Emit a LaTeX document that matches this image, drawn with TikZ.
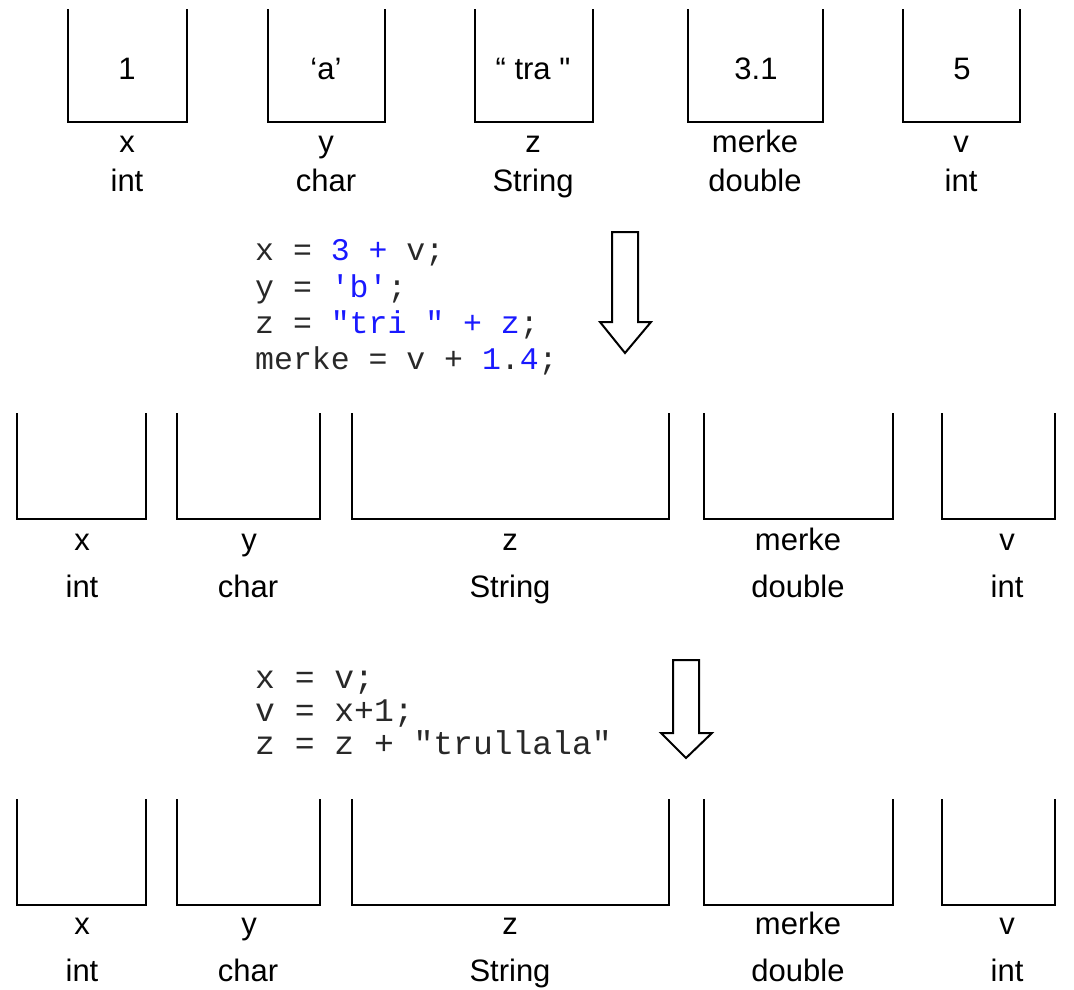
\documentclass[tikz,border=0pt]{standalone}
\usepackage{fontspec}
\setmainfont{Liberation Sans}[Ligatures=TeXOff]
\newfontfamily\codefont{Liberation Mono}[Ligatures=TeXOff]
\definecolor{cblue}{RGB}{25,25,255}
\definecolor{cdark}{RGB}{40,40,40}
\tikzset{
  cellbox/.style={inner sep=0pt, outer sep=0pt, font=\fontsize{31}{37}\selectfont},
  uline/.style={line width=2pt, line cap=rect},
  lbl/.style={inner sep=0pt, anchor=base, font=\fontsize{31}{37}\selectfont},
  codeA/.style={inner sep=0pt, anchor=base west, text=cdark, font=\codefont\fontsize{31.5}{37}\selectfont},
  codeB/.style={inner sep=0pt, anchor=base west, text=cdark, font=\codefont\fontsize{33}{38}\selectfont},
  blockarrow/.style={line width=2pt, line join=miter, fill=white},
}
\newcommand{\ubox}[6]{%
  \node[cellbox, minimum width=#4pt, minimum height=#5pt] (#1) at (#2,#3) {#6};
  \draw[uline] (#1.north west) -- (#1.south west) -- (#1.south east) -- (#1.north east);
}
\begin{document}
\begin{tikzpicture}[x=1pt, y=-1pt]
\useasboundingbox (0,0) rectangle (1074,989);

% ---------- top row ----------
\ubox{tx}{127.5}{66}{119}{112}{}
\ubox{ty}{326.5}{66}{117}{112}{}
\ubox{tz}{534}{66}{118}{112}{}
\ubox{tm}{755.5}{66}{135}{112}{}
\ubox{tv}{961.5}{66}{117}{112}{}
\node[lbl] (vx) at (127,79) {1};
\node[lbl] (vy) at (326,79) {‘a’};
\node[lbl] (vz) at (533,79) {“ tra "};
\node[lbl] (vm) at (756,79) {3.1};
\node[lbl] (vv) at (962,79) {5};
\node[lbl] (tnx) at (127,152) {x};
\node[lbl] (tny) at (326,152) {y};
\node[lbl] (tnz) at (533,152) {z};
\node[lbl] (tnm) at (755,152) {merke};
\node[lbl] (tnv) at (961,152) {v};
\node[lbl] (ttx) at (127,191) {int};
\node[lbl] (tty) at (326,191) {char};
\node[lbl] (ttz) at (533,191) {String};
\node[lbl] (ttm) at (755,191) {double};
\node[lbl] (ttv) at (961,191) {int};

% ---------- code block 1 ----------
\node[codeA] (c1a) at (255,260) {x = {\color{cblue}3 +} v;};
\node[codeA] (c1b) at (255,297) {y = {\color{cblue}'b'};};
\node[codeA] (c1c) at (255,333) {z = {\color{cblue}"tri " + z};};
\node[codeA] (c1d) at (255,369) {merke = v + {\color{cblue}1}.{\color{cblue}4};};
\draw[blockarrow] (612,232) -- (638,232) -- (638,322) -- (651,322) -- (625,353) -- (600,322) -- (612,322) -- cycle;

% ---------- middle row ----------
\ubox{mx}{81.5}{466.5}{129}{105}{}
\ubox{my}{248.5}{466.5}{143}{105}{}
\ubox{mz}{510.5}{466.5}{317}{105}{}
\ubox{mm}{798.5}{466.5}{189}{105}{}
\ubox{mv}{998.5}{466.5}{113}{105}{}
\node[lbl] (mnx) at (82,550) {x};
\node[lbl] (mny) at (249,550) {y};
\node[lbl] (mnz) at (510,550) {z};
\node[lbl] (mnm) at (798,550) {merke};
\node[lbl] (mnv) at (1007,550) {v};
\node[lbl] (mtx) at (82,597) {int};
\node[lbl] (mty) at (248,597) {char};
\node[lbl] (mtz) at (510,597) {String};
\node[lbl] (mtm) at (798,597) {double};
\node[lbl] (mtv) at (1007,597) {int};

% ---------- code block 2 ----------
\node[codeB] (c2a) at (255,688) {x = v;};
\node[codeB] (c2b) at (255,721) {v = x+1;};
\node[codeB] (c2c) at (255,754) {z = z + "trullala"};
\draw[blockarrow] (673,660) -- (699,660) -- (699,733) -- (712,733) -- (686,758) -- (661,733) -- (673,733) -- cycle;

% ---------- bottom row ----------
\ubox{bx}{81.5}{852.5}{129}{105}{}
\ubox{by}{248.5}{852.5}{143}{105}{}
\ubox{bz}{510.5}{852.5}{317}{105}{}
\ubox{bm}{798.5}{852.5}{189}{105}{}
\ubox{bv}{998.5}{852.5}{113}{105}{}
\node[lbl] (bnx) at (82,934) {x};
\node[lbl] (bny) at (249,934) {y};
\node[lbl] (bnz) at (510,934) {z};
\node[lbl] (bnm) at (798,934) {merke};
\node[lbl] (bnv) at (1007,934) {v};
\node[lbl] (btx) at (82,981) {int};
\node[lbl] (bty) at (248,981) {char};
\node[lbl] (btz) at (510,981) {String};
\node[lbl] (btm) at (798,981) {double};
\node[lbl] (btv) at (1007,981) {int};
\end{tikzpicture}
\end{document}
